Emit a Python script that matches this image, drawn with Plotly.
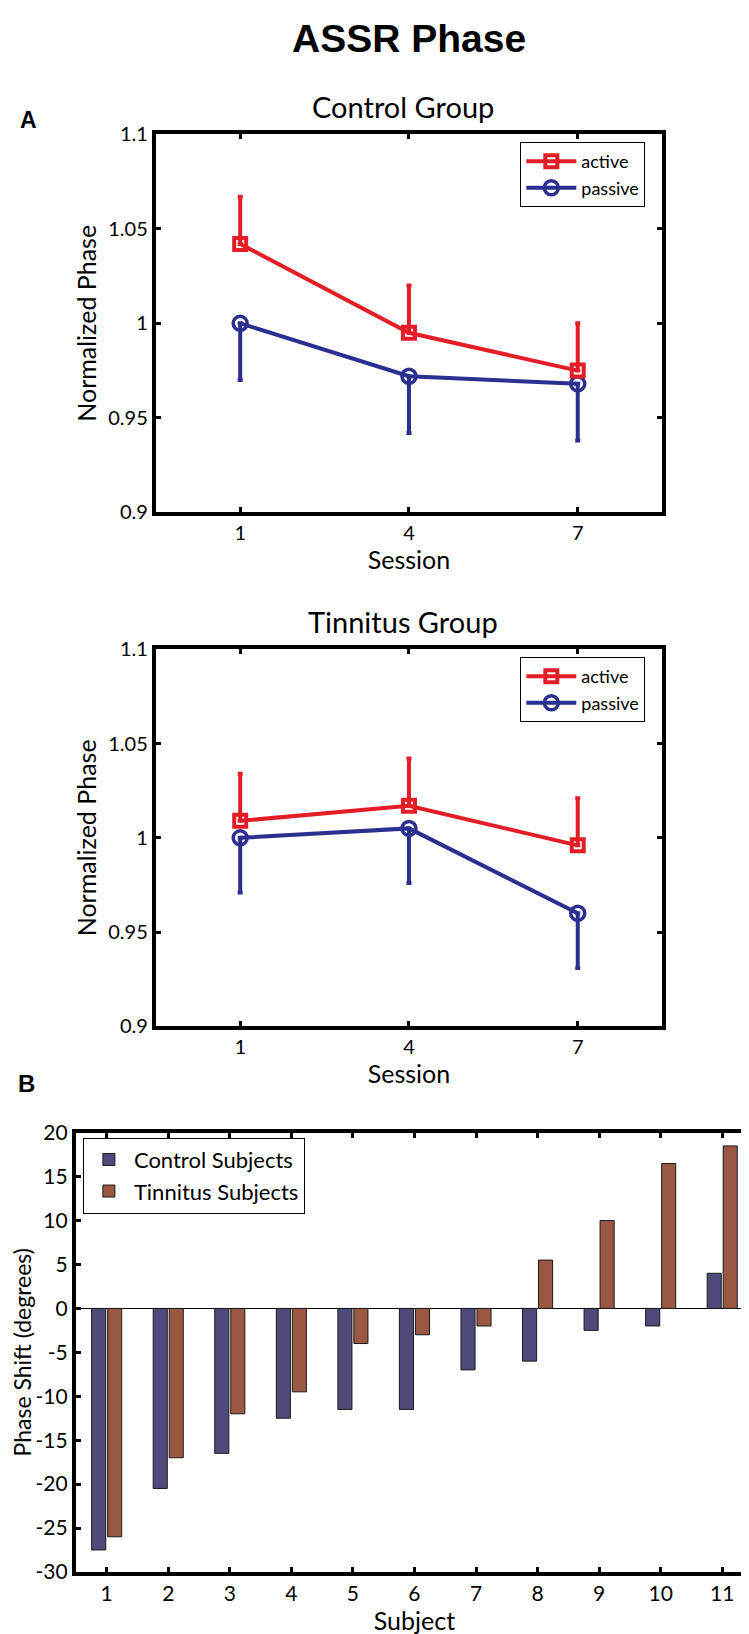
import plotly.graph_objects as go

W, H = 749, 1634

# ---------------- data ----------------
sessions = [1, 4, 7]
control_active = [1.042, 0.995, 0.975]
control_active_err = [0.025, 0.025, 0.025]
control_passive = [1.000, 0.972, 0.968]
control_passive_err = [0.030, 0.030, 0.030]

tinnitus_active = [1.009, 1.017, 0.996]
tinnitus_active_err = [0.025, 0.025, 0.025]
tinnitus_passive = [1.000, 1.005, 0.960]
tinnitus_passive_err = [0.029, 0.029, 0.029]

phase_ticks = [0.9, 0.95, 1.0, 1.05, 1.1]
phase_ticktext = ["0.9", "0.95", "1", "1.05", "1.1"]

subjects = list(range(1, 12))
control_shift = [-27.5, -20.5, -16.5, -12.5, -11.5, -11.5, -7, -6, -2.5, -2, 4]
tinnitus_shift = [-26, -17, -12, -9.5, -4, -3, -2, 5.5, 10, 16.5, 18.5]
shift_ticks = [20, 15, 10, 5, 0, -5, -10, -15, -20, -25, -30]
shift_ticktext = ["20", "15", "10", "5", "0", "-5", "-10", "-15", "-20", "-25", "-30"]

RED = "#E31E26"
BLUE = "#2B2F8F"
BAR_BLUE = "#4E4B7C"
BAR_BROWN = "#9A5843"
FONT = "Lato"


def px_x(a, b):
    return [a / W, b / W]


def px_y(top, bottom):
    return [1 - bottom / H, 1 - top / H]


fig = go.Figure()


def add_group(active, aerr, passive, perr, xa, ya, legend):
    fig.add_trace(go.Scatter(
        x=sessions, y=passive, mode="lines+markers", name="passive",
        xaxis=xa, yaxis=ya, legend=legend,
        line=dict(color=BLUE, width=4),
        marker=dict(symbol="circle-open", size=14, color=BLUE, line=dict(width=3.5)),
        error_y=dict(type="data", symmetric=False, array=[0] * len(perr),
                     arrayminus=perr, color=BLUE, thickness=4, width=2.5),
    ))
    fig.add_trace(go.Scatter(
        x=sessions, y=active, mode="lines+markers", name="active",
        xaxis=xa, yaxis=ya, legend=legend,
        line=dict(color=RED, width=4),
        marker=dict(symbol="square-open", size=12, color=RED, line=dict(width=4)),
        error_y=dict(type="data", symmetric=False, array=aerr,
                     arrayminus=[0] * len(aerr), color=RED, thickness=4, width=2.5),
    ))


add_group(control_active, control_active_err, control_passive, control_passive_err,
          "x", "y", "legend")
add_group(tinnitus_active, tinnitus_active_err, tinnitus_passive, tinnitus_passive_err,
          "x2", "y2", "legend2")

fig.add_trace(go.Bar(
    x=subjects, y=control_shift, name="Control Subjects", xaxis="x3", yaxis="y3",
    legend="legend3", marker=dict(color=BAR_BLUE, line=dict(color="#1a1a1a", width=1)),
))
fig.add_trace(go.Bar(
    x=subjects, y=tinnitus_shift, name="Tinnitus Subjects", xaxis="x3", yaxis="y3",
    legend="legend3", marker=dict(color=BAR_BROWN, line=dict(color="#1a1a1a", width=1)),
))

axis_common = dict(showline=True, linecolor="black", linewidth=4, mirror="ticks",
                   ticks="inside", ticklen=5, tickwidth=3, tickcolor="black",
                   showgrid=False, zeroline=False,
                   tickfont=dict(family=FONT, size=20, color="black"))
title_font = dict(family=FONT, size=25, color="black")

A_X = px_x(148, 655)
fig.update_layout(
    width=W, height=H, margin=dict(l=0, r=0, t=0, b=0),
    paper_bgcolor="white", plot_bgcolor="white",
    barmode="group", bargap=0.48, bargroupgap=0.12,
    font=dict(family=FONT, color="black"),
    xaxis=dict(domain=A_X, range=[-0.5, 8.5], tickvals=sessions, anchor="y",
               title=dict(text="Session", font=title_font, standoff=2),
               **axis_common),
    yaxis=dict(domain=px_y(114, 498), range=[0.9, 1.1], tickvals=phase_ticks,
               ticktext=phase_ticktext, anchor="x",
               title=dict(text="Normalized Phase", font=title_font, standoff=6),
               **axis_common),
    xaxis2=dict(domain=A_X, range=[-0.5, 8.5], tickvals=sessions, anchor="y2",
                title=dict(text="Session", font=title_font, standoff=2),
                **axis_common),
    yaxis2=dict(domain=px_y(637, 1020), range=[0.9, 1.1], tickvals=phase_ticks,
                ticktext=phase_ticktext, anchor="x2",
                title=dict(text="Normalized Phase", font=title_font, standoff=6),
                **axis_common),
    xaxis3=dict(domain=px_x(68, 746), range=[0.5, 11.5], tickvals=subjects, anchor="y3",
                title=dict(text="Subject", font=title_font, standoff=2),
                **{**axis_common, "tickfont": dict(family=FONT, size=21, color="black")}),
    yaxis3=dict(domain=px_y(1128, 1574), range=[-30, 20], tickvals=shift_ticks,
                ticktext=shift_ticktext, anchor="x3",
                title=dict(text="Phase Shift (degrees)", font=dict(family=FONT, size=23, color="black"), standoff=4),
                **{**axis_common, "tickfont": dict(family=FONT, size=21, color="black"),
                   "zeroline": True, "zerolinecolor": "black", "zerolinewidth": 1}),
    legend=dict(x=513 / W, y=1 - 122 / H, xanchor="left", yanchor="top",
                bgcolor="white", bordercolor="black", borderwidth=1,
                font=dict(family=FONT, size=18), itemwidth=50,
                tracegroupgap=0, traceorder="reversed"),
    legend2=dict(x=513 / W, y=1 - 645 / H, xanchor="left", yanchor="top",
                 bgcolor="white", bordercolor="black", borderwidth=1,
                 font=dict(family=FONT, size=18), itemwidth=50,
                 tracegroupgap=0, traceorder="reversed"),
    legend3=dict(x=75 / W, y=1 - 1133 / H, xanchor="left", yanchor="top",
                 bgcolor="white", bordercolor="black", borderwidth=1,
                 font=dict(family=FONT, size=22), itemwidth=40, tracegroupgap=0),
    showlegend=True,
)

annotations = [
    dict(text="<b>ASSR Phase</b>", x=402 / W, y=1 - 17 / H, font=dict(family="Liberation Sans", size=39)),
    dict(text="<b>A</b>", x=21 / W, y=1 - 100 / H, font=dict(family="Liberation Sans", size=23)),
    dict(text="<b>B</b>", x=19 / W, y=1 - 1078 / H, font=dict(family="Liberation Sans", size=24)),
    dict(text="Control Group", x=396 / W, y=1 - 86 / H, font=dict(family=FONT, size=29)),
    dict(text="Tinnitus Group", x=396 / W, y=1 - 609 / H, font=dict(family=FONT, size=29)),
]
for a in annotations:
    a.update(xref="paper", yref="paper", showarrow=False, xanchor="center", yanchor="middle")
fig.update_layout(annotations=annotations)

fig.write_html("out.html")
